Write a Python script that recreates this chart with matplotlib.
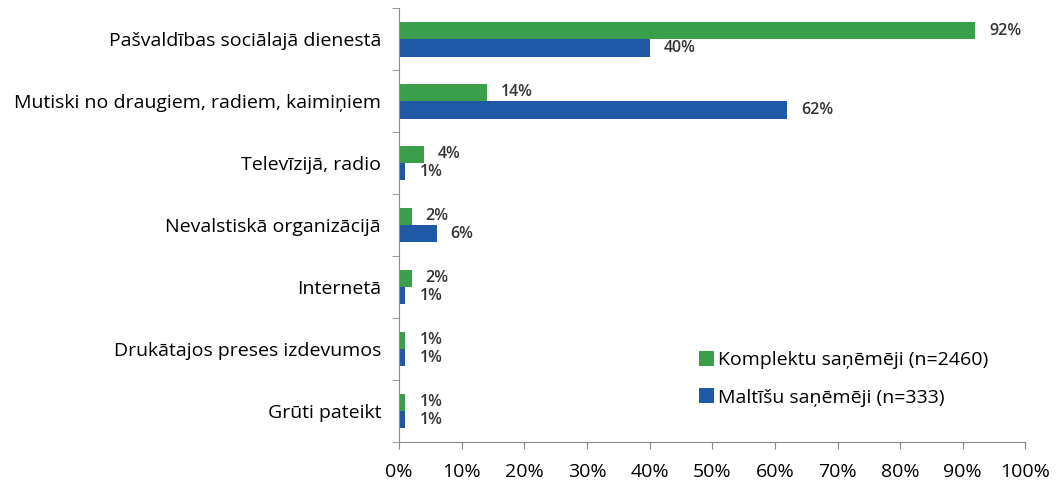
import numpy as np
import matplotlib.pyplot as plt

categories = [
    "Pašvaldības sociālajā dienestā",
    "Mutiski no draugiem, radiem, kaimiņiem",
    "Televīzijā, radio",
    "Nevalstiskā organizācijā",
    "Internetā",
    "Drukātajos preses izdevumos",
    "Grūti pateikt",
]
komplekti = [92, 14, 4, 2, 2, 1, 1]
maltites = [40, 62, 1, 6, 1, 1, 1]
series_names = ["Komplektu saņēmēji (n=2460)", "Maltīšu saņēmēji (n=333)"]

green = "#3a9e4a"
blue = "#1f58a4"

plt.rcParams["font.family"] = ["Open Sans", "DejaVu Sans"]

fig = plt.figure(figsize=(10.56, 4.83), dpi=100)
ax = fig.add_axes([0.378, 0.085, 0.593, 0.898])

y = np.arange(len(categories))
h = 0.28
bars_g = ax.barh(y - h / 2, komplekti, height=h, color=green, label=series_names[0])
bars_b = ax.barh(y + h / 2, maltites, height=h, color=blue, label=series_names[1])

for bars in (bars_g, bars_b):
    for b in bars:
        ax.annotate(f"{b.get_width():.0f}%",
                    (b.get_width(), b.get_y() + b.get_height() / 2),
                    xytext=(10, 0), textcoords="offset points",
                    va="center", ha="left", fontsize=11.5, fontweight="semibold",
                    color="#333333")

ax.set_ylim(len(categories) - 0.5, -0.5)
ax.set_xlim(0, 99)
ax.set_yticks(y)
ax.set_yticklabels(categories, fontsize=14)
ax.tick_params(axis="y", which="major", length=0, pad=13)
ax.set_yticks(np.arange(-0.5, len(categories), 1), minor=True)
ax.tick_params(axis="y", which="minor", length=5, color="#888888")

ax.set_xticks(np.arange(0, 101, 10))
ax.set_xticklabels([f"{v}%" for v in range(0, 101, 10)], fontsize=14)
ax.tick_params(axis="x", length=5, color="#888888", pad=10)

for s in ("top", "right"):
    ax.spines[s].set_visible(False)
for s in ("left", "bottom"):
    ax.spines[s].set_color("#888888")

fig.legend(loc="upper left", bbox_to_anchor=(0.645, 0.31), frameon=False,
           fontsize=14, handlelength=0.8, handleheight=0.8, handletextpad=0.2,
           labelspacing=1.0)

fig.savefig("out.png", dpi=100)
